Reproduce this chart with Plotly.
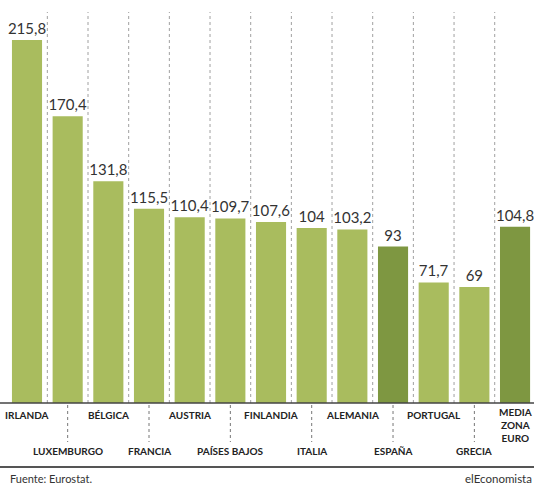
import plotly.graph_objects as go

categories = ["IRLANDA", "LUXEMBURGO", "BÉLGICA", "FRANCIA", "AUSTRIA", "PAÍSES BAJOS",
              "FINLANDIA", "ITALIA", "ALEMANIA", "ESPAÑA", "PORTUGAL", "GRECIA",
              "MEDIA<br>ZONA<br>EURO"]
values = [215.8, 170.4, 131.8, 115.5, 110.4, 109.7, 107.6, 104, 103.2, 93, 71.7, 69, 104.8]
highlight = [False] * 9 + [True, False, False, True]

LIGHT = "#A9BC5E"
DARK = "#7E9741"

W, H = 534, 484
ML, MR, MT, MB = 0, 0, 12, 484 - 403
PH = H - MT - MB
PX_PER_UNIT_X = 40.67
X0 = -27 / PX_PER_UNIT_X
X1 = X0 + W / PX_PER_UNIT_X


def py2paper(py):
    return (H - MB - py) / PH


def px2paper(px):
    return (px - ML) / (W - ML - MR)


xs = list(range(len(categories)))
labels = [f"{v:g}".replace(".", ",") for v in values]
colors = [DARK if h else LIGHT for h in highlight]

fig = go.Figure(go.Bar(
    x=xs, y=values, marker=dict(color=colors, line=dict(width=0)),
    text=labels, textposition="outside", cliponaxis=False, constraintext="none",
    textfont=dict(family="Lato", size=15, color="#333333"),
    width=0.74, hoverinfo="skip",
))

shapes = []
for i in range(len(categories) - 1):
    shapes.append(dict(type="line", xref="x", yref="paper", x0=i + 0.5, x1=i + 0.5,
                       y0=0, y1=1, line=dict(color="#A0A0A0", width=1, dash="dot"), layer="below"))
shapes.append(dict(type="line", xref="paper", yref="paper", x0=0, x1=1,
                   y0=0, y1=0, line=dict(color="#444444", width=1.5)))
for i in range(1, len(categories), 2):
    shapes.append(dict(type="line", xref="x", yref="paper", x0=i, x1=i,
                       y0=py2paper(405), y1=py2paper(442),
                       line=dict(color="#777777", width=1, dash="dot")))
shapes.append(dict(type="line", xref="paper", yref="paper", x0=0, x1=1,
                   y0=py2paper(467), y1=py2paper(467), line=dict(color="#555555", width=2)))

annotations = []
for i, c in enumerate(categories):
    if i == len(categories) - 1:
        annotations.append(dict(x=i, y=py2paper(404), xref="x", yref="paper", text=f"<b>{c}</b>",
                                showarrow=False, yanchor="top", xanchor="center",
                                font=dict(family="Lato", size=10, color="#222222")))
    else:
        row_y = 415 if i % 2 == 0 else 451
        annotations.append(dict(x=i, y=py2paper(row_y), xref="x", yref="paper", text=f"<b>{c}</b>",
                                showarrow=False, yanchor="middle", xanchor="center",
                                font=dict(family="Lato", size=10, color="#222222")))
annotations.append(dict(x=px2paper(8), y=py2paper(478), xref="paper", yref="paper",
                        text="Fuente: Eurostat.", showarrow=False, xanchor="left", yanchor="middle",
                        font=dict(family="Lato", size=11, color="#333333")))
annotations.append(dict(x=1, y=py2paper(478), xref="paper", yref="paper",
                        text="elEconomista", showarrow=False, xanchor="right", yanchor="middle",
                        font=dict(family="Lato", size=11.5, color="#333333")))

fig.update_layout(
    width=W, height=H,
    margin=dict(l=ML, r=MR, t=MT, b=MB, pad=0),
    paper_bgcolor="white", plot_bgcolor="white",
    showlegend=False, separators=",.",
    xaxis=dict(range=[X0, X1], showticklabels=False, showgrid=False,
               zeroline=False, showline=False, ticks=""),
    yaxis=dict(range=[0, PH / (363 / 215.8)], showticklabels=False, showgrid=False,
               zeroline=False, showline=False, ticks=""),
    shapes=shapes, annotations=annotations,
)

fig.write_html("out.html", config={"displayModeBar": False},
               post_script="document.body.style.margin='0';document.body.style.overflow='hidden';")
